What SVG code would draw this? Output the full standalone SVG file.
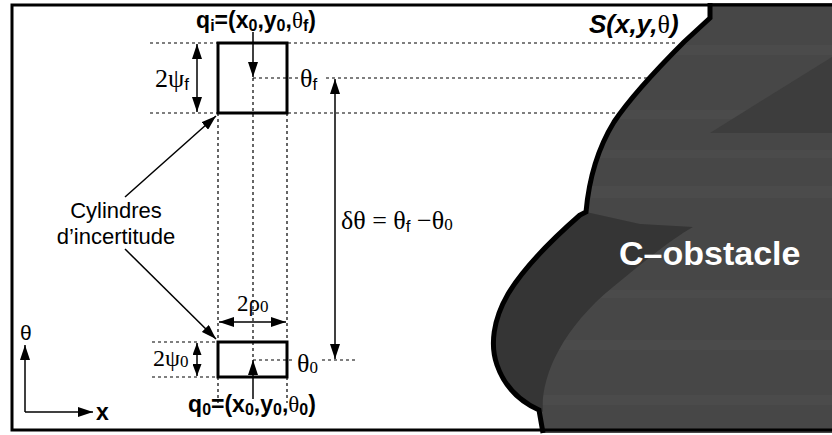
<svg xmlns="http://www.w3.org/2000/svg" width="832" height="435" viewBox="0 0 832 435">
<style>
.dot{stroke:#000;stroke-width:1.2;stroke-dasharray:3 3;fill:none}
.ln{stroke:#000;stroke-width:1.5;fill:none}
.box{stroke:#000;stroke-width:3;fill:none}
.sans{font-family:"Liberation Sans",Arial,sans-serif}
.serif{font-family:"Liberation Serif","Times New Roman",serif}
.b{font-weight:bold}
</style>
<defs>
<marker id="ah" markerUnits="userSpaceOnUse" markerWidth="15" markerHeight="10" refX="15" refY="5" orient="auto-start-reverse" viewBox="0 0 15 10">
<path d="M0,0 L15,5 L0,10 Z" fill="#000"/>
</marker>
<marker id="ahs" markerUnits="userSpaceOnUse" markerWidth="12" markerHeight="9" refX="12" refY="4.5" orient="auto-start-reverse" viewBox="0 0 12 9">
<path d="M0,0 L12,4.5 L0,9 Z" fill="#000"/>
</marker>
<clipPath id="oc">
<path d="M710 3 L710 18 L684 42 C662 64 632 95 614 122 C598 148 589 178 586 212 L580 215 C556 236 526 264 508 294 C493 320 490 345 497 365 C505 388 521 402 539 410 L543 433 L835 433 L835 3 Z"/>
</clipPath>
</defs>
<rect width="832" height="435" fill="#fff"/>

<g id="obstacle">
<g clip-path="url(#oc)">
<rect x="480" y="0" width="360" height="440" fill="#474747"/>
<g fill="#4b4b4b">
<rect x="480" y="45" width="360" height="10"/>
<rect x="480" y="110" width="360" height="9"/>
<rect x="480" y="150" width="360" height="8"/>
<rect x="480" y="186" width="360" height="12"/>
<rect x="480" y="290" width="360" height="8"/>
<rect x="480" y="340" width="360" height="10"/>
<rect x="480" y="395" width="360" height="10"/>
</g>
<polygon points="710,133 832,57 832,133" fill="#3d3d3d"/>
<path d="M586 212 L580 215 C556 236 526 264 508 294 C493 320 490 345 497 365 C505 388 521 402 539 410 L543 412 C540 380 560 330 613 287 C640 265 670 240 693 227 L640 224 Z" fill="#353535"/>
</g>
<path d="M710 3 L710 18 L684 42 C662 64 632 95 614 122 C598 148 589 178 586 212 L580 215 C556 236 526 264 508 294 C493 320 490 345 497 365 C505 388 521 402 539 410 L543 433" fill="none" stroke="#000" stroke-width="5" stroke-linejoin="miter"/>
<text class="sans b" x="619" y="265" font-size="34" fill="#fff">C–obstacle</text>
<text class="sans b" x="589" y="33" font-size="26" font-style="italic">S(x,y,<tspan class="serif" font-weight="normal" font-style="normal">θ</tspan>)</text>
</g>

<rect x="12" y="5" width="830" height="425" fill="none" stroke="#000" stroke-width="3"/>

<g id="guides">
<line class="dot" x1="150" y1="43" x2="677" y2="43"/>
<line class="dot" x1="253" y1="78" x2="298" y2="78"/>
<line class="dot" x1="326" y1="78" x2="647" y2="78"/>
<line class="dot" x1="150" y1="113" x2="617" y2="113"/>
<line class="dot" x1="152" y1="342" x2="218" y2="342"/>
<line class="dot" x1="152" y1="377" x2="218" y2="377"/>
<line class="dot" x1="253" y1="360" x2="295" y2="360"/>
<line class="dot" x1="322" y1="360" x2="356" y2="360"/>
<line class="dot" x1="218" y1="113" x2="218" y2="342"/>
<line class="dot" x1="287" y1="113" x2="287" y2="342"/>
<line class="dot" x1="218" y1="377" x2="218" y2="403"/>
<line class="dot" x1="287" y1="377" x2="287" y2="403"/>
<line class="dot" x1="253" y1="78" x2="253" y2="360"/>
</g>

<g id="cyl_top">
<rect class="box" x="218" y="43" width="69" height="70"/>
</g>
<g id="cyl_bottom">
<rect class="box" x="218" y="342" width="69" height="35"/>
</g>

<g id="connectors">
<line class="ln" x1="253" y1="32" x2="253" y2="77" marker-end="url(#ah)"/>
<line class="ln" x1="253" y1="399" x2="253" y2="360" marker-end="url(#ah)"/>
<line class="ln" x1="197" y1="44" x2="197" y2="112" marker-start="url(#ah)" marker-end="url(#ah)"/>
<line class="ln" x1="197" y1="343" x2="197" y2="376" marker-start="url(#ahs)" marker-end="url(#ahs)"/>
<line class="ln" x1="219" y1="322" x2="286" y2="322" marker-start="url(#ah)" marker-end="url(#ah)"/>
<line class="ln" x1="335" y1="79" x2="335" y2="359" marker-start="url(#ah)" marker-end="url(#ah)"/>
<line class="ln" x1="125" y1="197" x2="216" y2="116" marker-end="url(#ah)"/>
<line class="ln" x1="125" y1="249" x2="216" y2="339" marker-end="url(#ah)"/>
<line class="ln" x1="25" y1="412" x2="25" y2="345" marker-end="url(#ah)"/>
<line class="ln" x1="25" y1="412" x2="93" y2="412" marker-end="url(#ah)"/>
</g>

<g id="labels">
<text class="sans b" x="256" y="28" font-size="23" text-anchor="middle">q<tspan font-size="16" dy="3">i</tspan><tspan dy="-3">=(x</tspan><tspan font-size="16" dy="3">0</tspan><tspan dy="-3">,y</tspan><tspan font-size="16" dy="3">0</tspan><tspan dy="-3">,</tspan><tspan class="serif" font-weight="normal">θ</tspan><tspan font-size="16" dy="3">f</tspan><tspan dy="-3">)</tspan></text>
<text class="sans b" x="252" y="412" font-size="23" text-anchor="middle">q<tspan font-size="16" dy="3">0</tspan><tspan dy="-3">=(x</tspan><tspan font-size="16" dy="3">0</tspan><tspan dy="-3">,y</tspan><tspan font-size="16" dy="3">0</tspan><tspan dy="-3">,</tspan><tspan class="serif" font-weight="normal">θ</tspan><tspan font-size="16" dy="3">0</tspan><tspan dy="-3">)</tspan></text>
<text class="serif" x="155" y="87" font-size="26">2ψ<tspan font-family="Liberation Sans,sans-serif" font-size="17" dy="3">f</tspan></text>
<text class="serif" x="300" y="87" font-size="26">θ<tspan font-family="Liberation Sans,sans-serif" font-size="17" dy="3">f</tspan></text>
<text class="serif" x="153" y="366" font-size="24">2ψ<tspan font-size="17" dy="1">0</tspan></text>
<text class="serif" x="297" y="372" font-size="26">θ<tspan font-size="17" dy="1">0</tspan></text>
<text class="serif" x="237" y="311" font-size="23">2ρ<tspan font-size="17" dy="1">0</tspan></text>
<text class="serif" x="341" y="229" font-size="26">δθ = θ<tspan font-family="Liberation Sans,sans-serif" font-size="17" dy="3">f</tspan><tspan dy="-3"> −θ</tspan><tspan font-size="17" dy="1">0</tspan></text>
<text class="sans" x="116" y="218" font-size="22" text-anchor="middle">Cylindres</text>
<text class="sans" x="116" y="244" font-size="22" text-anchor="middle">d’incertitude</text>
<text class="sans" x="20" y="340" font-size="21">θ</text>
<text class="sans b" x="96" y="420" font-size="23">x</text>
</g>
</svg>
